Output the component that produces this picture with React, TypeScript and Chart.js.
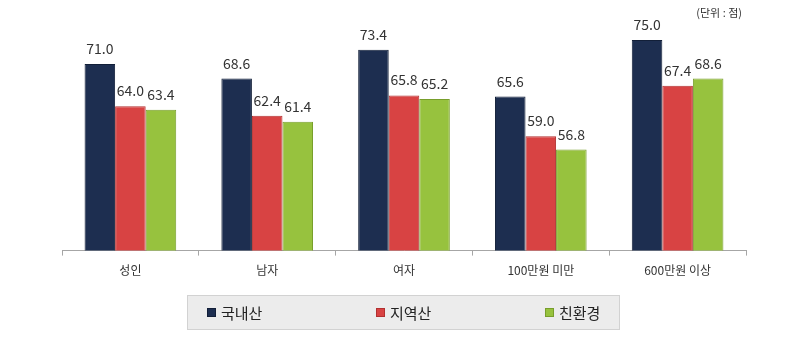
import React, { useEffect, useRef } from "react";
import { Chart, registerables } from "chart.js";

Chart.register(...registerables);

const categories = ["성인", "남자", "여자", "100만원 미만", "600만원 이상"];
const seriesNames = ["국내산", "지역산", "친환경"];
const domestic = [71.0, 68.6, 73.4, 65.6, 75.0];
const regional = [64.0, 62.4, 65.8, 59.0, 67.4];
const eco = [63.4, 61.4, 65.2, 56.8, 68.6];
const unitLabel = "(단위 : 점)";

const FONT = "'Noto Sans CJK KR', 'Noto Sans', sans-serif";
const fills = ["#1d2e50", "#d84343", "#97c23e"];
const borders = ["#121f38", "#b23030", "#789e2c"];

const valueLabels = {
  id: "valueLabels",
  afterDatasetsDraw(chart: any) {
    const ctx = chart.ctx;
    ctx.save();
    ctx.font = `14px ${FONT}`;
    ctx.fillStyle = "#333333";
    ctx.textAlign = "center";
    ctx.textBaseline = "alphabetic";
    chart.data.datasets.forEach((ds: any, di: number) => {
      const meta = chart.getDatasetMeta(di);
      meta.data.forEach((el: any, i: number) => {
        ctx.fillText(Number(ds.data[i]).toFixed(1), el.x, el.y - 10);
      });
    });
    ctx.restore();
  },
};

const boxedLegend = {
  id: "boxedLegend",
  afterDraw(chart: any) {
    const ctx = chart.ctx;
    const cx = chart.width / 2 - 2;
    const w = 432;
    const h = 34;
    const left = Math.round(cx - w / 2) + 0.5;
    const top = 287.5;
    ctx.save();
    ctx.fillStyle = "#ececec";
    ctx.strokeStyle = "#d2d2d2";
    ctx.lineWidth = 1;
    ctx.fillRect(left, top, w, h);
    ctx.strokeRect(left, top, w, h);
    const midY = top + h / 2;
    ctx.font = `15px ${FONT}`;
    ctx.textBaseline = "middle";
    ctx.textAlign = "left";
    chart.data.datasets.forEach((ds: any, i: number) => {
      const bx = Math.round(left + 19 + i * 169);
      ctx.fillStyle = ds.backgroundColor;
      ctx.fillRect(bx, Math.round(midY - 4.5), 9, 9);
      ctx.strokeStyle = ds.borderColor;
      ctx.strokeRect(bx + 0.5, Math.round(midY - 4.5) + 0.5, 8, 8);
      ctx.fillStyle = "#222222";
      ctx.fillText(ds.label, bx + 14, midY + 1);
    });
    // unit label
    ctx.font = `11px ${FONT}`;
    ctx.fillStyle = "#333333";
    ctx.textAlign = "right";
    ctx.fillText(unitLabel, chart.chartArea.right - 4, 5);
    ctx.restore();
  },
};

export default function App() {
  const ref = useRef<HTMLCanvasElement | null>(null);
  useEffect(() => {
    if (!ref.current) return;
    const seriesValues = [domestic, regional, eco];
    const chart = new Chart(ref.current, {
      type: "bar",
      data: {
        labels: categories,
        datasets: seriesNames.map((name, i) => ({
          label: name,
          data: seriesValues[i],
          backgroundColor: fills[i],
          borderColor: borders[i],
          borderWidth: 1,
          barPercentage: 1.0,
          categoryPercentage: 0.67,
        })),
      },
      options: {
        responsive: true,
        maintainAspectRatio: false,
        animation: false,
        layout: { padding: { top: 14, left: 54, right: 56, bottom: 65 } },
        plugins: {
          legend: { display: false },
          title: { display: false },
          tooltip: { enabled: false },
        },
        scales: {
          x: {
            grid: {
              drawOnChartArea: false,
              drawTicks: true,
              tickLength: 5,
              color: "#a6a6a6",
            },
            border: { color: "#a6a6a6" },
            ticks: {
              color: "#333333",
              font: { family: FONT, size: 12 },
              padding: 8,
            },
          },
          y: {
            display: false,
            min: 40,
            max: 78,
          },
        },
      },
      plugins: [valueLabels, boxedLegend],
    });
    return () => chart.destroy();
  }, []);
  return (
    <div style={{ width: 794, height: 343, position: "relative" }}>
      <canvas ref={ref} />
    </div>
  );
}
